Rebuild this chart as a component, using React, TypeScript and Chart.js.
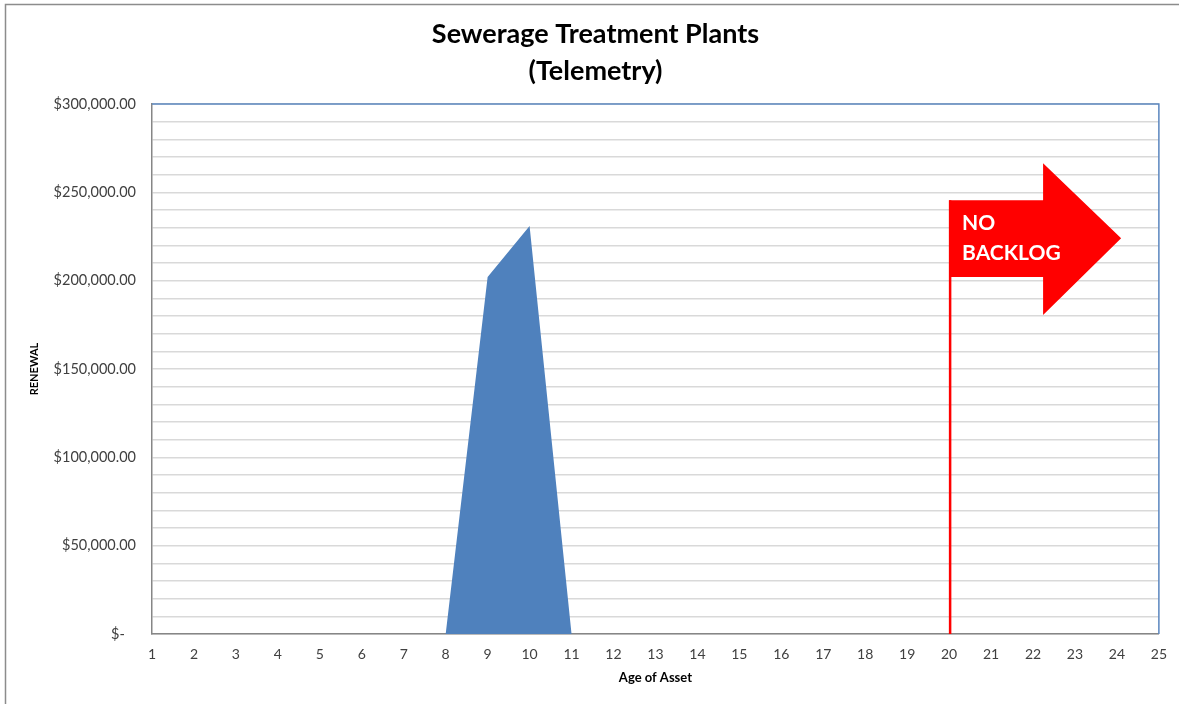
import React, { useEffect, useRef } from 'react';
import { Chart, registerables } from 'chart.js';

Chart.register(...registerables);

// ---- data ----
const ages = ['1', '2', '3', '4', '5', '6', '7', '8', '9', '10', '11', '12', '13', '14', '15', '16', '17', '18', '19', '20', '21', '22', '23', '24', '25'];
const renewal = [0, 0, 0, 0, 0, 0, 0, 0, 202000, 231000, 0, 0, 0, 0, 0, 0, 0, 0, 0, 0, 0, 0, 0, 0, 0];
const yMax = 300000;
const yGridStep = 10000;
const yLabelStep = 50000;
const titleLines = ['Sewerage Treatment Plants', '(Telemetry)'];
const xAxisTitle = 'Age of Asset';
const yAxisTitle = 'RENEWAL';

// "No backlog" marker, in data units (age, renewal value)
const backlogAge = 20;
const backlogText = ['NO', 'BACKLOG'];
const flagTopValue = 245500;
const flagBottomValue = 202000;
const headTopValue = 266500;
const headBottomValue = 180500;
const headTipValue = 224000;
const headBaseAge = 22.24;
const headTipAge = 24.1;

const FONT = 'Lato, "Open Sans", sans-serif';

function formatMoney(v: number): string {
  if (v === 0) return '$-   ';
  return '$' + v.toLocaleString('en-US', { minimumFractionDigits: 2, maximumFractionDigits: 2 });
}

const decorPlugin = {
  id: 'decor',
  beforeDraw(chart: any) {
    const ctx = chart.ctx;
    ctx.save();
    ctx.fillStyle = '#ffffff';
    ctx.fillRect(0, 0, chart.width, chart.height);
    ctx.strokeStyle = '#8c8c8c';
    ctx.lineWidth = 1.5;
    ctx.beginPath();
    ctx.moveTo(5.5, chart.height);
    ctx.lineTo(5.5, 4.5);
    ctx.lineTo(chart.width, 4.5);
    ctx.stroke();
    ctx.restore();
  },
  afterDatasetsDraw(chart: any) {
    const { ctx, chartArea, scales } = chart;
    const x = scales.x;
    const y = scales.y;
    ctx.save();
    // plot area border (top / right)
    ctx.strokeStyle = '#5b86bf';
    ctx.lineWidth = 1.5;
    ctx.beginPath();
    ctx.moveTo(chartArea.left, chartArea.top);
    ctx.lineTo(chartArea.right, chartArea.top);
    ctx.lineTo(chartArea.right, chartArea.bottom);
    ctx.stroke();

    const xPole = x.getPixelForValue(backlogAge - 1);
    const xBase = x.getPixelForValue(headBaseAge - 1);
    const xTip = x.getPixelForValue(headTipAge - 1);
    const yFlagTop = y.getPixelForValue(flagTopValue);
    const yFlagBottom = y.getPixelForValue(flagBottomValue);
    const yHeadTop = y.getPixelForValue(headTopValue);
    const yHeadBottom = y.getPixelForValue(headBottomValue);
    const yTip = y.getPixelForValue(headTipValue);

    // pole
    ctx.strokeStyle = '#ff0000';
    ctx.lineWidth = 2.5;
    ctx.beginPath();
    ctx.moveTo(xPole + 1, chartArea.bottom);
    ctx.lineTo(xPole + 1, yFlagTop);
    ctx.stroke();

    // arrow flag
    ctx.fillStyle = '#ff0000';
    ctx.beginPath();
    ctx.moveTo(xPole, yFlagTop);
    ctx.lineTo(xBase, yFlagTop);
    ctx.lineTo(xBase, yHeadTop);
    ctx.lineTo(xTip, yTip);
    ctx.lineTo(xBase, yHeadBottom);
    ctx.lineTo(xBase, yFlagBottom);
    ctx.lineTo(xPole, yFlagBottom);
    ctx.closePath();
    ctx.fill();

    ctx.fillStyle = '#ffffff';
    ctx.font = `bold 21px ${FONT}`;
    ctx.textAlign = 'left';
    ctx.textBaseline = 'middle';
    backlogText.forEach((t, i) => {
      ctx.fillText(t, xPole + 13, yFlagTop + 23 + i * 30);
    });
    ctx.restore();
  },
};

export default function App() {
  const canvasRef = useRef<HTMLCanvasElement | null>(null);

  useEffect(() => {
    document.body.style.margin = '0';
    const canvas = canvasRef.current;
    if (!canvas) return;
    const chart = new Chart(canvas, {
      type: 'line',
      data: {
        labels: ages,
        datasets: [
          {
            data: renewal,
            fill: 'origin',
            backgroundColor: '#4f81bd',
            borderColor: 'rgba(0,0,0,0)',
            borderWidth: 0,
            pointRadius: 0,
            tension: 0,
          },
        ],
      },
      options: {
        animation: false,
        responsive: true,
        maintainAspectRatio: false,
        layout: { padding: { left: 31, right: 19, top: 0, bottom: 0 } },
        plugins: {
          legend: { display: false },
          tooltip: { enabled: false },
          title: {
            display: true,
            text: titleLines,
            color: '#000000',
            font: { family: FONT, size: 27, weight: 'bold', lineHeight: 1.37 },
            padding: { top: 16, bottom: 14 },
          },
        },
        scales: {
          x: {
            type: 'category',
            offset: false,
            grid: { display: false, drawTicks: false },
            border: { display: true, color: '#868686', width: 1.5 },
            ticks: {
              color: '#404040',
              font: { family: FONT, size: 14 },
              padding: 12,
              autoSkip: false,
              maxRotation: 0,
            },
            title: {
              display: true,
              text: xAxisTitle,
              color: '#000000',
              font: { family: FONT, size: 13, weight: 'bold' },
              padding: { top: 0, bottom: 18 },
            },
            afterFit: (scale: any) => {
              scale.height = 70;
            },
          },
          y: {
            min: 0,
            max: yMax,
            grid: { color: '#d9d9d9', lineWidth: 1.5, drawTicks: false },
            border: { display: true, color: '#868686', width: 1.5 },
            ticks: {
              stepSize: yGridStep,
              autoSkip: false,
              color: '#404040',
              font: { family: FONT, size: 14.5 },
              padding: 16,
              callback: (v: any) => (Number(v) % yLabelStep === 0 ? formatMoney(Number(v)) : ''),
            },
            title: {
              display: true,
              text: yAxisTitle,
              color: '#000000',
              font: { family: FONT, size: 11, weight: 'bold' },
              padding: { top: -3, bottom: 0 },
            },
            afterFit: (scale: any) => {
              scale.width = 121;
            },
          },
        },
      },
      plugins: [decorPlugin],
    });
    return () => chart.destroy();
  }, []);

  return (
    <div style={{ position: 'relative', width: 1179, height: 704 }}>
      <canvas ref={canvasRef} />
    </div>
  );
}
